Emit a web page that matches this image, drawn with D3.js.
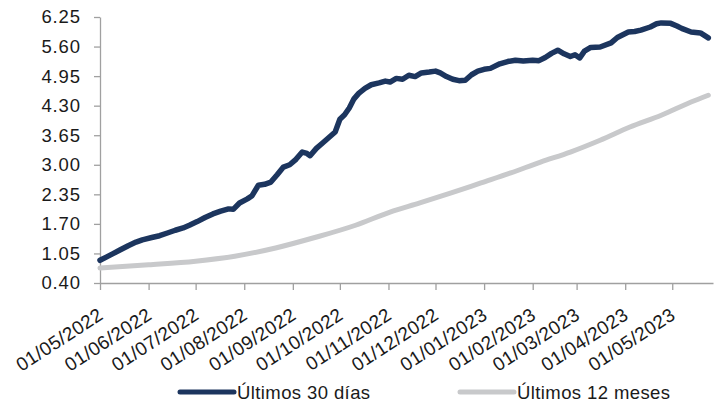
<!DOCTYPE html>
<html>
<head>
<meta charset="utf-8">
<script src="https://cdn.jsdelivr.net/npm/d3@7"></script>
<style>
  html, body { margin: 0; padding: 0; background: #ffffff; }
  svg { display: block; }
  text { font-family: "Liberation Sans", Arial, sans-serif; fill: #1a1a1a; }
</style>
</head>
<body>
<svg id="chart" width="715" height="404"></svg>
<script>
// ---- Data ----
const seriesNames = ["Últimos 30 días", "Últimos 12 meses"];

const dates30 = [
  "2022-05-01","2022-05-05","2022-05-09","2022-05-14","2022-05-19","2022-05-24","2022-05-28",
  "2022-06-03","2022-06-08","2022-06-13","2022-06-18","2022-06-23","2022-06-27",
  "2022-07-02","2022-07-07","2022-07-12","2022-07-17","2022-07-22","2022-07-25","2022-07-29",
  "2022-08-03","2022-08-06","2022-08-10","2022-08-14","2022-08-18","2022-08-22","2022-08-26","2022-08-30",
  "2022-09-03","2022-09-07","2022-09-10","2022-09-12","2022-09-16","2022-09-20","2022-09-24","2022-09-28",
  "2022-10-01","2022-10-04","2022-10-07","2022-10-10","2022-10-13","2022-10-17","2022-10-21","2022-10-26","2022-10-30",
  "2022-11-02","2022-11-06","2022-11-10","2022-11-14","2022-11-18","2022-11-22","2022-11-27",
  "2022-12-01","2022-12-04","2022-12-08","2022-12-12","2022-12-16","2022-12-20","2022-12-24","2022-12-28",
  "2023-01-01","2023-01-05","2023-01-11","2023-01-16","2023-01-21","2023-01-26",
  "2023-02-01","2023-02-05","2023-02-09","2023-02-13","2023-02-17","2023-02-21","2023-02-25","2023-02-28",
  "2023-03-03","2023-03-06","2023-03-10","2023-03-16","2023-03-23","2023-03-27",
  "2023-04-03","2023-04-07","2023-04-11","2023-04-17","2023-04-21","2023-04-24","2023-04-30",
  "2023-05-04","2023-05-07","2023-05-13","2023-05-19","2023-05-24"
];
const values30 = [
  0.90,0.97,1.04,1.13,1.22,1.30,1.35,
  1.40,1.44,1.50,1.56,1.61,1.67,
  1.75,1.84,1.92,1.98,2.03,2.02,2.16,
  2.25,2.32,2.55,2.57,2.62,2.78,2.95,3.00,
  3.12,3.28,3.25,3.20,3.36,3.48,3.60,3.72,
  4.00,4.10,4.25,4.45,4.57,4.68,4.76,4.80,4.84,
  4.82,4.90,4.88,4.97,4.94,5.02,5.04,
  5.06,5.02,4.94,4.88,4.85,4.86,4.98,5.06,
  5.10,5.12,5.22,5.27,5.30,5.28,
  5.30,5.29,5.36,5.45,5.52,5.44,5.38,5.42,
  5.35,5.50,5.58,5.59,5.68,5.80,
  5.92,5.93,5.96,6.03,6.10,6.12,6.11,
  6.05,6.00,5.92,5.90,5.79
];

const dates12 = [
  "2022-05-01","2022-06-01","2022-07-01","2022-07-26","2022-08-21","2022-09-15","2022-10-11",
  "2022-11-02","2022-11-21","2022-12-11","2022-12-30","2023-01-18","2023-02-06","2023-02-25",
  "2023-03-16","2023-04-04","2023-04-24","2023-05-13","2023-05-24"
];
const values12 = [
  0.73,0.80,0.88,0.99,1.17,1.40,1.67,
  1.96,2.16,2.38,2.60,2.82,3.06,3.28,
  3.54,3.83,4.09,4.38,4.53
];

const yTickValues = [0.40, 1.05, 1.70, 2.35, 3.00, 3.65, 4.30, 4.95, 5.60, 6.25];
const xTickLabels = ["01/05/2022","01/06/2022","01/07/2022","01/08/2022","01/09/2022","01/10/2022",
  "01/11/2022","01/12/2022","01/01/2023","01/02/2023","01/03/2023","01/04/2023","01/05/2023"];
const xDomain = ["2022-05-01", "2023-05-27"];

const colors = ["#1c355e", "#c8c9cb"];

// ---- Chart ----
const parse = d3.timeParse("%Y-%m-%d");
const parseLabel = d3.timeParse("%d/%m/%Y");
const svg = d3.select("#chart");

const mLeft = 100, mRight = 713, mTop = 17, mBottom = 283;

const x = d3.scaleTime().domain(xDomain.map(parse)).range([mLeft, mRight]);
const y = d3.scaleLinear().domain([0.40, 6.25]).range([mBottom, mTop]);

const axisColor = "#a0a0a0";

// Y axis
const yAxis = svg.append("g")
  .attr("transform", `translate(${mLeft},0)`)
  .call(d3.axisLeft(y).tickValues(yTickValues).tickFormat(d3.format(".2f")).tickSize(6).tickSizeOuter(0).tickPadding(13));
yAxis.select(".domain").attr("stroke", axisColor).attr("stroke-width", 1.3);
yAxis.selectAll(".tick line").attr("stroke", axisColor).attr("stroke-width", 1.3);
yAxis.selectAll(".tick text").attr("font-size", 18.5).attr("fill", "#1a1a1a")
  .attr("letter-spacing", "0.9px")
  .attr("font-family", "Liberation Sans, Arial, sans-serif");

// X axis
const xTicks = xTickLabels.map(parseLabel);
const xAxis = svg.append("g")
  .attr("transform", `translate(0,${mBottom})`)
  .call(d3.axisBottom(x).tickValues(xTicks).tickFormat(d3.timeFormat("%d/%m/%Y")).tickSize(7).tickSizeOuter(0));
xAxis.select(".domain").attr("stroke", axisColor).attr("stroke-width", 1.3);
xAxis.selectAll(".tick line").attr("stroke", axisColor).attr("stroke-width", 1.3);
xAxis.selectAll(".tick text")
  .attr("font-size", 19).attr("fill", "#1a1a1a")
  .attr("letter-spacing", "0.4px")
  .attr("font-family", "Liberation Sans, Arial, sans-serif")
  .attr("text-anchor", "end")
  .attr("y", 0).attr("dy", 0)
  .attr("transform", "translate(4,35) rotate(-33)");

// Lines
const data30 = dates30.map((d, i) => ({ date: parse(d), value: values30[i] }));
const data12 = dates12.map((d, i) => ({ date: parse(d), value: values12[i] }));

const line = d3.line().x(d => x(d.date)).y(d => y(d.value));

svg.append("path").datum(data12)
  .attr("fill", "none").attr("stroke", colors[1]).attr("stroke-width", 5)
  .attr("stroke-linecap", "round").attr("stroke-linejoin", "round")
  .attr("d", line.curve(d3.curveMonotoneX));

svg.append("path").datum(data30)
  .attr("fill", "none").attr("stroke", colors[0]).attr("stroke-width", 5.5)
  .attr("stroke-linecap", "round").attr("stroke-linejoin", "round")
  .attr("d", line.curve(d3.curveLinear));

// Legend
const legendItems = [
  { name: seriesNames[0], color: colors[0], x0: 180 },
  { name: seriesNames[1], color: colors[1], x0: 460 }
];
const lg = svg.append("g");
legendItems.forEach(it => {
  lg.append("line").attr("x1", it.x0).attr("x2", it.x0 + 54)
    .attr("y1", 392).attr("y2", 392)
    .attr("stroke", it.color).attr("stroke-width", 5).attr("stroke-linecap", "round");
  lg.append("text").attr("x", it.x0 + 57).attr("y", 399)
    .attr("font-size", 18.5).attr("letter-spacing", "0.4px").text(it.name);
});
</script>
</body>
</html>
